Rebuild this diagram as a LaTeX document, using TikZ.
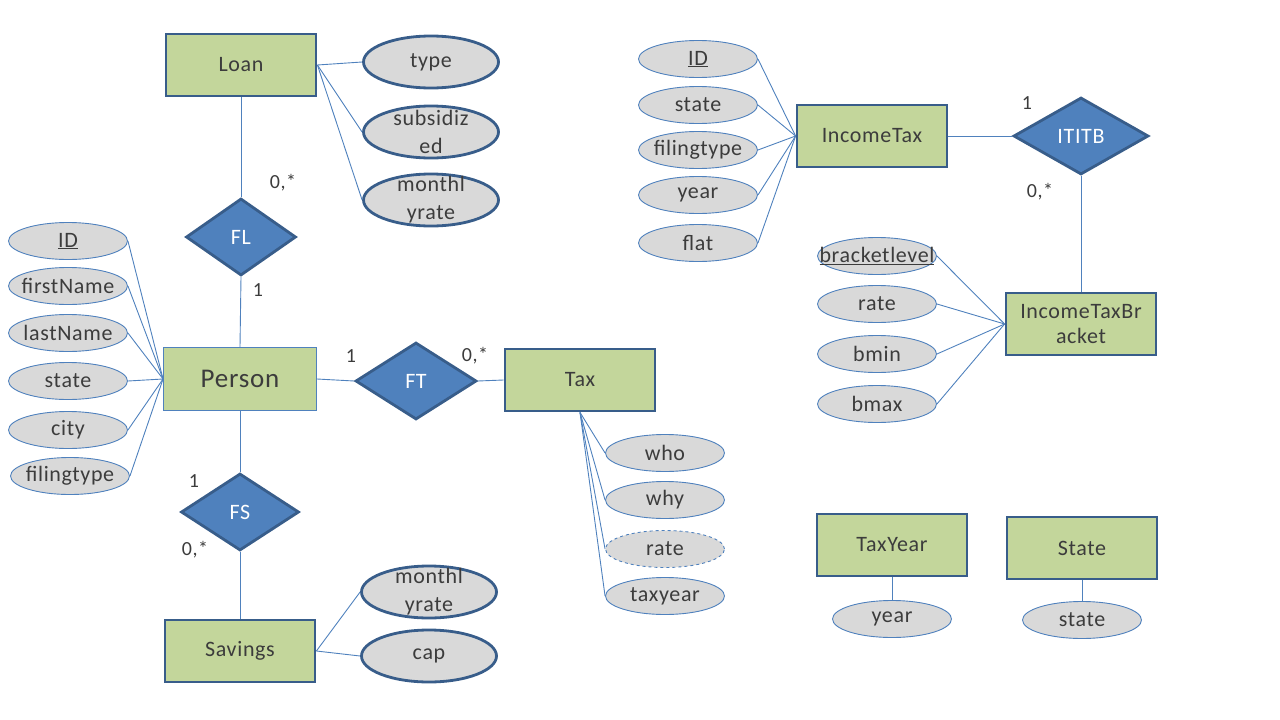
\documentclass[tikz,border=0pt]{standalone}
\usepackage{fontspec}
\setmainfont{Carlito}[LetterSpace=3]
\usetikzlibrary{shapes.geometric,positioning}
\definecolor{erGreen}{RGB}{195,214,155}
\definecolor{erEdge}{RGB}{56,93,138}
\definecolor{erBlue}{RGB}{79,129,189}
\definecolor{erGray}{RGB}{217,217,217}
\definecolor{erText}{RGB}{60,60,60}

\begin{document}
\begin{tikzpicture}[
  x=1pt, y=-1pt,
  font=\fontsize{22}{25}\selectfont,
  ent/.style={draw=erEdge, line width=2.8pt, fill=erGreen, minimum width=150pt, minimum height=62pt, inner sep=0pt, text=erText, align=center},
  rel/.style={diamond, draw=erEdge, line width=2.8pt, fill=erBlue, minimum height=77pt, inner sep=0pt, text=white},
  attr/.style={ellipse, draw=erBlue, line width=0.9pt, fill=erGray, minimum width=119pt, minimum height=37pt, inner xsep=-14pt, inner ysep=0pt, text=erText},
  battr/.style={attr, draw=erEdge, line width=2.8pt, minimum width=135pt, minimum height=52pt},
  atxt/.style={text=erText, align=center, font=\fontsize{22}{28}\selectfont},
  card/.style={text=erText, font=\fontsize{20}{22}\selectfont},
  lnk/.style={draw=erBlue, line width=0.9pt}
]
\useasboundingbox (0,0) rectangle (1280,720);

%============ LOAN ============
\node[ent] (loan) at (241,65) {Loan};
\node[battr] (ltype) at (431,62) {type};
\node[battr] (lsub) at (431,132) {};
\node[atxt] (lsubT) at (lsub) {subsidiz\\ed};
\node[battr] (lrate) at (431,200) {};
\node[atxt] (lrateT) at (lrate) {monthl\\yrate};
\draw[lnk] (loan.east) -- (ltype.west);
\draw[lnk] (loan.east) -- (lsub.west);
\draw[lnk] (loan.east) -- (lrate.west);

\node[rel, minimum width=110pt] (fl) at (241,237) {FL};
\node[card] (c1) at (283,183) {0,*};
\node[card] (c2) at (258,290) {1};

%============ PERSON ============
\node[ent, draw=erBlue, line width=0.9pt, minimum width=153pt, minimum height=63pt, font=\fontsize{27}{30}\selectfont] (person) at (240,379) {Person};
\node[attr] (pid) at (68,241) {\underline{ID}};
\node[attr] (pfirst) at (68,286) {firstName};
\node[attr] (plast) at (68,333) {lastName};
\node[attr] (pstate) at (68,381) {state};
\node[attr] (pcity) at (68,430) {city};
\node[attr] (pfiling) at (70,476) {filingtype};
\foreach \a in {pid,pfirst,plast,pstate,pcity,pfiling}
  \draw[lnk] (\a.east) -- (person.west);
\draw[lnk] (loan.south) -- (fl.north);
\draw[lnk] (fl.south) -- (person.north);

%============ TAX ============
\node[rel, minimum width=121pt] (ft) at (416,381) {FT};
\node[card] (c3) at (351,356) {1};
\node[card] (c4) at (475,356) {0,*};
\node[ent] (tax) at (580,380) {Tax};
\draw[lnk] (person.east) -- (ft.west);
\draw[lnk] (ft.east) -- (tax.west);
\node[attr] (twho) at (665,453) {who};
\node[attr] (twhy) at (665,500) {why};
\node[attr, dashed] (trate) at (665,549) {rate};
\node[attr] (tyear) at (665,596) {taxyear};
\foreach \a in {twho,twhy,trate,tyear}
  \draw[lnk] (tax.south) -- (\a.west);

%============ SAVINGS ============
\node[rel, minimum width=118pt] (fs) at (240,512) {FS};
\node[card] (c5) at (194,481) {1};
\node[card] (c6) at (195,550) {0,*};
\node[ent] (sav) at (240,651) {Savings};
\draw[lnk] (person.south) -- (fs.north);
\draw[lnk] (fs.south) -- (sav.north);
\node[battr] (srate) at (429,592) {};
\node[atxt] (srateT) at (srate) {monthl\\yrate};
\node[battr] (scap) at (429,656) {cap};
\draw[lnk] (sav.east) -- (srate.west);
\draw[lnk] (sav.east) -- (scap.west);

%============ INCOME TAX ============
\node[ent] (itax) at (872,136) {IncomeTax};
\node[attr] (iid) at (698,59) {\underline{ID}};
\node[attr] (istate) at (698,105) {state};
\node[attr] (ifiling) at (698,150) {filingtype};
\node[attr] (iyear) at (698,195) {year};
\node[attr] (iflat) at (698,243) {flat};
\foreach \a in {iid,istate,ifiling,iyear,iflat}
  \draw[lnk] (\a.east) -- (itax.west);

\node[rel, minimum width=135pt] (itb) at (1081,136) {ITITB};
\node[card] (c7) at (1027,103) {1};
\node[card] (c8) at (1040,192) {0,*};
\node[ent] (ibr) at (1081,324) {IncomeTaxBr\\acket};
\draw[lnk] (itax.east) -- (itb.west);
\draw[lnk] (itb.south) -- (ibr.north);
\node[attr] (blevel) at (877,256) {};
\node[atxt] (blevelT) at (blevel) {\underline{bracketlevel}};
\node[attr] (brate) at (877,304) {rate};
\node[attr] (bmin) at (877,354) {bmin};
\node[attr] (bmax) at (877,404) {bmax};
\foreach \a in {blevel,brate,bmin,bmax}
  \draw[lnk] (\a.east) -- (ibr.west);

%============ TAXYEAR / STATE ============
\node[ent] (tyr) at (892,545) {TaxYear};
\node[attr] (tyyear) at (892,619) {year};
\draw[lnk] (tyr.south) -- (tyyear.north);
\node[ent] (st) at (1082,548) {State};
\node[attr] (ststate) at (1082,620) {state};
\draw[lnk] (st.south) -- (ststate.north);

\end{tikzpicture}
\end{document}
